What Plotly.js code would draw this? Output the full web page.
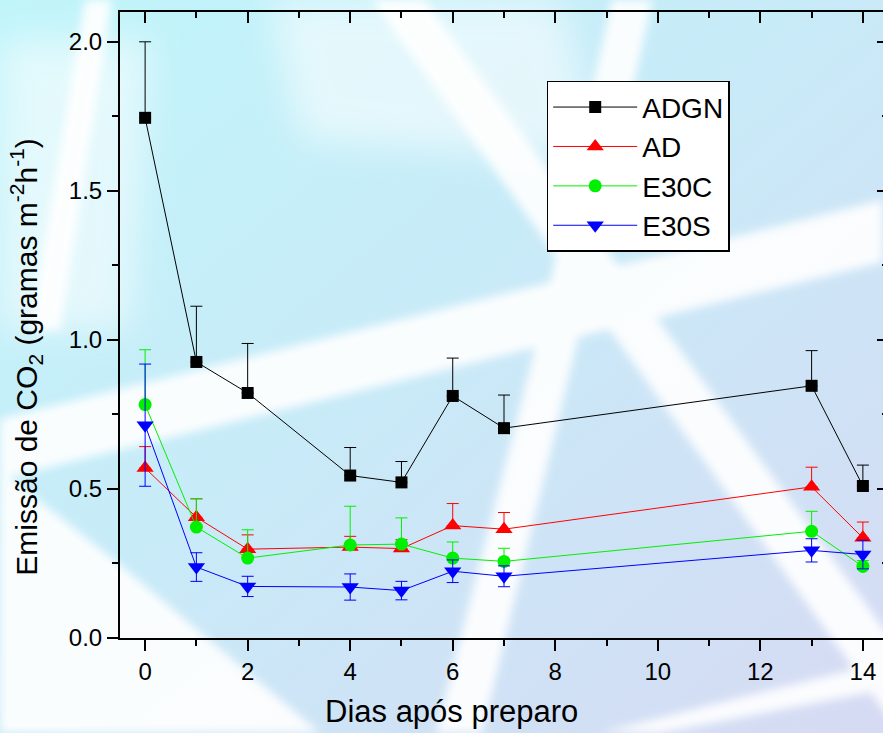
<!DOCTYPE html>
<html>
<head>
<meta charset="utf-8">
<script src="https://cdn.plot.ly/plotly-3.0.1.min.js"></script>
<style>
html,body{margin:0;padding:0;width:883px;height:733px;overflow:hidden;background:#ffffff;}
#bg{position:absolute;left:0;top:0;}
#chart{position:absolute;left:0;top:0;width:900px;height:733px;}
</style>
</head>
<body>
<svg id="bg" width="883" height="733">
  <defs>
    <linearGradient id="g" x1="0" y1="0" x2="1" y2="1">
      <stop offset="0" stop-color="#c0f5fa"/>
      <stop offset="0.45" stop-color="#c8ebf8"/>
      <stop offset="1" stop-color="#d6daf3"/>
    </linearGradient>
    <filter id="b" x="-20%" y="-20%" width="140%" height="140%"><feGaussianBlur stdDeviation="5"/></filter>
    <filter id="b2" x="-20%" y="-20%" width="140%" height="140%"><feGaussianBlur stdDeviation="18"/></filter>
  </defs>
  <rect width="883" height="733" fill="url(#g)"/>
  <g fill="#ffffff" filter="url(#b2)" opacity="0.55">
    <polygon points="0,40 150,40 130,330 0,330"/>
    <polygon points="270,0 560,0 600,160 300,140"/>
  </g>
  <g fill="#ffffff" filter="url(#b)" opacity="0.92">
    <polygon points="612,0 652,0 580,330 482,733 436,733 540,330"/>
    <polygon points="0,419 883,200 883,262 0,479"/>
    <polygon points="372,0 424,0 960,733 900,733"/>
    <polygon points="0,470 120,565 320,733 0,733"/>
    <polygon points="600,733 883,662 883,690 660,733"/>
    <polygon points="85,0 112,0 60,330 30,330"/>
  </g>
</svg>
<div id="chart"></div>
<script>
// Data
var days = [0, 1, 2, 4, 5, 6, 7, 13, 14];
var seriesNames = ["ADGN", "AD", "E30C", "E30S"];
var adgn    = [1.745, 0.926, 0.822, 0.545, 0.522, 0.812, 0.704, 0.846, 0.510];
var adgnErr = [0.255, 0.187, 0.166, 0.094, 0.070, 0.127, 0.111, 0.118, 0.070];
var ad      = [0.570, 0.405, 0.298, 0.305, 0.300, 0.377, 0.365, 0.507, 0.336];
var adErr   = [0.072, 0.062, 0.048, 0.036, 0.030, 0.074, 0.056, 0.066, 0.053];
var e30c    = [0.783, 0.372, 0.268, 0.312, 0.315, 0.268, 0.257, 0.358, 0.240];
var e30cErr = [0.184, 0.095, 0.095, 0.130, 0.088, 0.054, 0.044, 0.067, 0.020];
var e30s    = [0.714, 0.238, 0.173, 0.171, 0.159, 0.224, 0.207, 0.294, 0.280];
var e30sErr = [0.205, 0.048, 0.034, 0.044, 0.031, 0.038, 0.035, 0.039, 0.048];
var xTickVals = [0, 2, 4, 6, 8, 10, 12, 14];
var yTickVals = [0.0, 0.5, 1.0, 1.5, 2.0];
var yTickText = ["0.0", "0.5", "1.0", "1.5", "2.0"];
var xTitle = "Dias após preparo";
var yTitle = "Emissão de CO<sub>2</sub> (gramas m<sup>-2</sup>h<sup>-1</sup>)";

var zeros = days.map(function(){return 0;});
function mk(name, y, err, color, symbol, size, both) {
  return {
    x: days, y: y, name: name, type: 'scatter', mode: 'lines+markers',
    line: {color: color, width: 1},
    marker: {color: color, symbol: symbol, size: size, line: {width: 0}},
    error_y: both ? {type: 'data', array: err, symmetric: true, color: color, thickness: 1, width: 6}
                  : {type: 'data', array: err, arrayminus: zeros, symmetric: false, color: color, thickness: 1, width: 6}
  };
}
var traces = [
  mk(seriesNames[0], adgn, adgnErr, '#000000', 'square', 12, false),
  mk(seriesNames[1], ad, adErr, '#ff0000', 'triangle-up', 15, false),
  mk(seriesNames[2], e30c, e30cErr, '#00f000', 'circle', 13, false),
  mk(seriesNames[3], e30s, e30sErr, '#0000ff', 'triangle-down', 15, true),
  {x: [], y: [], xaxis: 'x2', yaxis: 'y2', showlegend: false, hoverinfo: 'skip', type: 'scatter'}
];

var font = 'Liberation Sans, Arial, sans-serif';
var xr = [-0.49, 14.49], yr = [0, 2.1];
var layout = {
  width: 900, height: 733,
  margin: {l: 120, r: 12, t: 12, b: 95, pad: 0},
  paper_bgcolor: 'rgba(0,0,0,0)', plot_bgcolor: 'rgba(0,0,0,0)',
  font: {family: font, color: '#000000', size: 24},
  showlegend: true,
  xaxis: {
    range: xr, tickvals: xTickVals, ticks: 'outside', ticklen: 11, tickwidth: 2, tickcolor: '#000',
    showline: true, linewidth: 2, linecolor: '#000', showgrid: false, zeroline: false,
    tickfont: {size: 24, family: font},
    minor: {dtick: 1, tick0: 1, ticks: 'outside', ticklen: 6, tickwidth: 2, tickcolor: '#000', showgrid: false}
  },
  yaxis: {
    range: yr, tickvals: yTickVals, ticktext: yTickText, ticks: 'outside', ticklen: 11, tickwidth: 2, tickcolor: '#000',
    showline: true, linewidth: 2, linecolor: '#000', showgrid: false, zeroline: false,
    tickfont: {size: 24, family: font},
    minor: {dtick: 0.25, tick0: 0, ticks: 'outside', ticklen: 6, tickwidth: 2, tickcolor: '#000', showgrid: false}
  },
  xaxis2: {
    overlaying: 'x', side: 'top', range: xr, tickvals: xTickVals, ticks: 'inside', ticklen: 11, tickwidth: 2,
    tickcolor: '#000', showticklabels: false, showline: true, linewidth: 2, linecolor: '#000', showgrid: false, zeroline: false,
    minor: {dtick: 1, tick0: 1, ticks: 'inside', ticklen: 6, tickwidth: 2, tickcolor: '#000', showgrid: false}
  },
  yaxis2: {
    overlaying: 'y', side: 'right', range: yr, tickvals: yTickVals, ticks: 'inside', ticklen: 11, tickwidth: 2,
    tickcolor: '#000', showticklabels: false, showline: true, linewidth: 2, linecolor: '#000', showgrid: false, zeroline: false,
    minor: {dtick: 0.25, tick0: 0, ticks: 'inside', ticklen: 6, tickwidth: 2, tickcolor: '#000', showgrid: false}
  },
  legend: {
    x: 0.5556, y: 0.8900, xanchor: 'left', yanchor: 'top',
    bgcolor: '#ffffff', bordercolor: '#000000', borderwidth: 1.5,
    font: {size: 28, family: font, color: '#000'}, itemwidth: 84, traceorder: 'normal', tracegroupgap: 0
  },
  annotations: [
    {text: xTitle, xref: 'paper', yref: 'paper', x: (451 - 120) / 768, y: (638.3 - 712) / 626,
     xanchor: 'center', yanchor: 'middle', showarrow: false, font: {size: 31, family: font, color: '#000'}},
    {text: yTitle, xref: 'paper', yref: 'paper', x: (26 - 120) / 768, y: (638.3 - 357) / 626,
     xanchor: 'center', yanchor: 'middle', textangle: -90, showarrow: false, font: {size: 30, family: font, color: '#000'}}
  ]
};
Plotly.newPlot('chart', traces, layout, {displayModeBar: false, staticPlot: true}).then(function(gd){
  // drop empty placeholder title texts that Plotly leaves in the SVG
  var texts = gd.querySelectorAll('text');
  for (var i = 0; i < texts.length; i++) {
    if (!texts[i].textContent || !texts[i].textContent.trim()) texts[i].parentNode.removeChild(texts[i]);
  }
});
</script>
</body>
</html>
